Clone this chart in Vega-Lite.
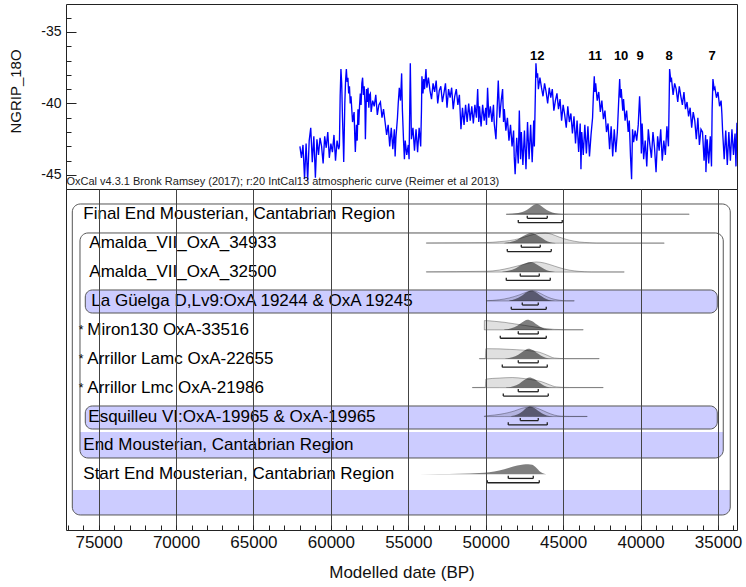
{
"$schema": "https://vega.github.io/schema/vega-lite/v6.json",
"padding": {"left": 8, "top": 3, "right": 6, "bottom": 2},
"background": "white",
"spacing": 0,
"bounds": "flush",
"config": {"view": {"stroke": "#222", "strokeWidth": 1}, "font": "Liberation Sans",
  "axis": {"labelFont": "Liberation Sans", "titleFont": "Liberation Sans", "labelColor": "#111", "titleColor": "#111", "titleFontWeight": "normal", "tickColor": "#222"}},
"datasets": {
 "ngrip": [
  {"t":62000,"v":-43.0},{"t":61900,"v":-43.8},{"t":61800,"v":-42.9},{"t":61700,"v":-45.3},{"t":61600,"v":-42.8},{"t":61500,"v":-45.4},{"t":61400,"v":-42.6},{"t":61300,"v":-41.7},{"t":61200,"v":-44.1},{"t":61100,"v":-42.3},{"t":61000,"v":-45.2},{"t":60900,"v":-42.5},{"t":60800,"v":-43.6},{"t":60700,"v":-42.4},{"t":60600,"v":-43.0},{"t":60500,"v":-44.2},{"t":60400,"v":-42.3},{"t":60300,"v":-43.1},{"t":60200,"v":-42.0},{"t":60100,"v":-43.8},{"t":60000,"v":-42.8},{"t":59900,"v":-43.4},{"t":59800,"v":-42.2},{"t":59700,"v":-44.0},{"t":59600,"v":-42.6},{"t":59500,"v":-43.2},{"t":59450,"v":-43.0},{"t":59400,"v":-39.5},{"t":59350,"v":-37.6},{"t":59300,"v":-38.6},{"t":59250,"v":-41.0},{"t":59200,"v":-42.8},{"t":59170,"v":-44.1},{"t":59100,"v":-40.0},{"t":59050,"v":-38.4},{"t":59000,"v":-37.6},{"t":58950,"v":-38.5},{"t":58900,"v":-38.2},{"t":58850,"v":-39.3},{"t":58800,"v":-38.8},{"t":58750,"v":-40.0},{"t":58700,"v":-39.5},{"t":58600,"v":-41.3},{"t":58500,"v":-40.6},{"t":58450,"v":-42.5},{"t":58420,"v":-43.4},{"t":58350,"v":-41.5},{"t":58300,"v":-42.6},{"t":58250,"v":-40.4},{"t":58200,"v":-41.5},{"t":58150,"v":-40.2},{"t":58100,"v":-39.3},{"t":58050,"v":-40.1},{"t":58000,"v":-38.6},{"t":57950,"v":-38.2},{"t":57900,"v":-39.4},{"t":57850,"v":-38.8},{"t":57800,"v":-40.0},{"t":57770,"v":-42.5},{"t":57700,"v":-39.0},{"t":57650,"v":-39.9},{"t":57600,"v":-38.9},{"t":57550,"v":-40.3},{"t":57500,"v":-39.4},{"t":57450,"v":-39.3},{"t":57400,"v":-40.6},{"t":57300,"v":-39.8},{"t":57200,"v":-40.2},{"t":57100,"v":-39.4},{"t":57000,"v":-40.8},{"t":56900,"v":-40.1},{"t":56800,"v":-39.9},{"t":56700,"v":-41.0},{"t":56600,"v":-40.4},{"t":56500,"v":-41.3},{"t":56400,"v":-42.2},{"t":56300,"v":-41.5},{"t":56200,"v":-43.0},{"t":56100,"v":-41.7},{"t":56000,"v":-43.2},{"t":55900,"v":-41.8},{"t":55850,"v":-43.7},{"t":55800,"v":-42.4},{"t":55700,"v":-41.0},{"t":55650,"v":-40.0},{"t":55580,"v":-38.9},{"t":55500,"v":-39.8},{"t":55430,"v":-37.9},{"t":55380,"v":-40.5},{"t":55300,"v":-42.8},{"t":55250,"v":-43.9},{"t":55200,"v":-42.6},{"t":55100,"v":-43.6},{"t":55000,"v":-42.9},{"t":54950,"v":-43.9},{"t":54870,"v":-37.2},{"t":54800,"v":-42.5},{"t":54700,"v":-41.7},{"t":54600,"v":-43.3},{"t":54500,"v":-41.8},{"t":54400,"v":-43.4},{"t":54300,"v":-41.7},{"t":54200,"v":-43.0},{"t":54150,"v":-40.5},{"t":54120,"v":-38.1},{"t":54050,"v":-39.3},{"t":54000,"v":-38.3},{"t":53950,"v":-39.0},{"t":53860,"v":-37.6},{"t":53800,"v":-38.9},{"t":53700,"v":-38.2},{"t":53600,"v":-39.1},{"t":53500,"v":-39.7},{"t":53400,"v":-38.6},{"t":53300,"v":-39.2},{"t":53200,"v":-38.4},{"t":53100,"v":-40.0},{"t":53000,"v":-39.1},{"t":52900,"v":-38.8},{"t":52800,"v":-39.9},{"t":52700,"v":-39.3},{"t":52600,"v":-38.6},{"t":52500,"v":-40.3},{"t":52400,"v":-39.0},{"t":52300,"v":-39.6},{"t":52200,"v":-38.9},{"t":52100,"v":-40.4},{"t":52000,"v":-39.5},{"t":51900,"v":-39.0},{"t":51800,"v":-40.1},{"t":51700,"v":-39.4},{"t":51600,"v":-41.8},{"t":51500,"v":-40.3},{"t":51400,"v":-41.5},{"t":51300,"v":-40.1},{"t":51200,"v":-41.3},{"t":51100,"v":-40.0},{"t":51000,"v":-41.2},{"t":50900,"v":-40.2},{"t":50800,"v":-41.4},{"t":50700,"v":-40.1},{"t":50600,"v":-41.0},{"t":50520,"v":-39.0},{"t":50450,"v":-41.3},{"t":50400,"v":-40.2},{"t":50300,"v":-41.6},{"t":50200,"v":-40.1},{"t":50100,"v":-41.2},{"t":50000,"v":-40.3},{"t":49950,"v":-41.5},{"t":49880,"v":-38.9},{"t":49800,"v":-41.0},{"t":49700,"v":-40.2},{"t":49600,"v":-41.3},{"t":49500,"v":-40.1},{"t":49450,"v":-41.4},{"t":49340,"v":-42.5},{"t":49250,"v":-40.0},{"t":49190,"v":-38.4},{"t":49100,"v":-41.0},{"t":49000,"v":-39.8},{"t":48910,"v":-39.0},{"t":48850,"v":-41.3},{"t":48800,"v":-40.4},{"t":48700,"v":-41.9},{"t":48600,"v":-41.0},{"t":48500,"v":-42.6},{"t":48400,"v":-41.5},{"t":48300,"v":-43.0},{"t":48200,"v":-41.9},{"t":48160,"v":-43.7},{"t":48100,"v":-44.95},{"t":48000,"v":-42.4},{"t":47900,"v":-44.2},{"t":47830,"v":-40.5},{"t":47750,"v":-43.9},{"t":47700,"v":-42.0},{"t":47600,"v":-44.3},{"t":47500,"v":-41.9},{"t":47400,"v":-44.6},{"t":47300,"v":-41.3},{"t":47200,"v":-43.9},{"t":47100,"v":-41.5},{"t":47000,"v":-44.1},{"t":46900,"v":-41.2},{"t":46860,"v":-43.0},{"t":46757,"v":-37.2},{"t":46700,"v":-38.2},{"t":46650,"v":-37.9},{"t":46600,"v":-39.0},{"t":46500,"v":-38.2},{"t":46400,"v":-38.9},{"t":46300,"v":-39.5},{"t":46200,"v":-38.6},{"t":46100,"v":-39.2},{"t":46000,"v":-40.0},{"t":45900,"v":-38.9},{"t":45800,"v":-39.6},{"t":45700,"v":-39.0},{"t":45600,"v":-40.5},{"t":45500,"v":-39.8},{"t":45400,"v":-39.3},{"t":45300,"v":-40.4},{"t":45200,"v":-39.7},{"t":45100,"v":-41.2},{"t":45000,"v":-40.1},{"t":44900,"v":-40.8},{"t":44800,"v":-41.7},{"t":44700,"v":-40.2},{"t":44600,"v":-41.3},{"t":44500,"v":-40.7},{"t":44400,"v":-42.1},{"t":44300,"v":-40.9},{"t":44200,"v":-42.8},{"t":44100,"v":-41.2},{"t":44000,"v":-43.4},{"t":43900,"v":-41.4},{"t":43850,"v":-44.6},{"t":43800,"v":-42.0},{"t":43700,"v":-43.6},{"t":43600,"v":-41.5},{"t":43500,"v":-43.5},{"t":43400,"v":-41.6},{"t":43300,"v":-43.7},{"t":43200,"v":-42.2},{"t":43100,"v":-41.0},{"t":43050,"v":-39.5},{"t":42990,"v":-38.1},{"t":42950,"v":-39.2},{"t":42900,"v":-38.6},{"t":42800,"v":-39.8},{"t":42700,"v":-39.2},{"t":42600,"v":-40.6},{"t":42500,"v":-39.8},{"t":42400,"v":-41.1},{"t":42300,"v":-40.5},{"t":42200,"v":-42.0},{"t":42100,"v":-41.4},{"t":42000,"v":-43.2},{"t":41900,"v":-41.6},{"t":41800,"v":-43.7},{"t":41700,"v":-41.8},{"t":41600,"v":-43.4},{"t":41500,"v":-42.0},{"t":41420,"v":-40.0},{"t":41350,"v":-38.3},{"t":41300,"v":-39.6},{"t":41250,"v":-39.0},{"t":41150,"v":-40.5},{"t":41100,"v":-39.7},{"t":41000,"v":-41.2},{"t":40900,"v":-40.5},{"t":40800,"v":-42.0},{"t":40730,"v":-41.2},{"t":40650,"v":-43.7},{"t":40580,"v":-45.3},{"t":40520,"v":-41.8},{"t":40450,"v":-42.7},{"t":40350,"v":-41.9},{"t":40250,"v":-42.6},{"t":40150,"v":-41.5},{"t":40063,"v":-39.5},{"t":40000,"v":-41.0},{"t":39950,"v":-43.5},{"t":39900,"v":-41.4},{"t":39800,"v":-43.9},{"t":39700,"v":-42.6},{"t":39600,"v":-44.4},{"t":39500,"v":-41.8},{"t":39400,"v":-42.9},{"t":39300,"v":-43.8},{"t":39200,"v":-42.0},{"t":39100,"v":-43.1},{"t":39000,"v":-44.8},{"t":38900,"v":-42.3},{"t":38800,"v":-43.3},{"t":38700,"v":-41.8},{"t":38600,"v":-44.0},{"t":38500,"v":-42.6},{"t":38400,"v":-43.6},{"t":38300,"v":-41.6},{"t":38200,"v":-43.0},{"t":38150,"v":-39.5},{"t":38125,"v":-37.6},{"t":38050,"v":-38.4},{"t":38000,"v":-38.3},{"t":37900,"v":-39.4},{"t":37800,"v":-38.6},{"t":37700,"v":-39.0},{"t":37600,"v":-39.9},{"t":37500,"v":-38.8},{"t":37400,"v":-39.5},{"t":37300,"v":-40.1},{"t":37200,"v":-39.2},{"t":37100,"v":-40.4},{"t":37000,"v":-39.9},{"t":36900,"v":-40.9},{"t":36800,"v":-40.3},{"t":36700,"v":-41.7},{"t":36600,"v":-40.6},{"t":36500,"v":-41.2},{"t":36400,"v":-42.5},{"t":36300,"v":-41.0},{"t":36200,"v":-42.9},{"t":36100,"v":-41.8},{"t":36000,"v":-42.0},{"t":35900,"v":-44.0},{"t":35800,"v":-42.2},{"t":35780,"v":-44.8},{"t":35700,"v":-42.5},{"t":35600,"v":-44.2},{"t":35500,"v":-42.3},{"t":35420,"v":-44.4},{"t":35380,"v":-40.5},{"t":35327,"v":-38.3},{"t":35250,"v":-39.0},{"t":35200,"v":-38.9},{"t":35100,"v":-39.6},{"t":35000,"v":-39.2},{"t":34900,"v":-40.2},{"t":34800,"v":-39.8},{"t":34750,"v":-40.7},{"t":34700,"v":-42.0},{"t":34600,"v":-43.9},{"t":34500,"v":-41.9},{"t":34400,"v":-44.3},{"t":34300,"v":-42.0},{"t":34200,"v":-44.0},{"t":34100,"v":-41.8},{"t":34000,"v":-43.6},{"t":33900,"v":-42.1},{"t":33840,"v":-44.4},{"t":33777,"v":-41.35},{"t":33700,"v":-42.5}
 ],
 "events": [
  {"t":46680,"v":-36.7,"n":"12"},{"t":42935,"v":-36.7,"n":"11"},{"t":41256,"v":-36.7,"n":"10"},{"t":40029,"v":-36.7,"n":"9"},{"t":38156,"v":-36.7,"n":"8"},{"t":35379,"v":-36.7,"n":"7"}
 ],
 "prior": [
  {"r":1,"t":48673,"p":0.02},{"r":1,"t":36858,"p":0.02},
  {"r":2,"t":53839,"p":0.03},{"r":2,"t":49964,"p":0.06},{"r":2,"t":49125,"p":0.15},{"r":2,"t":48479,"p":0.25},{"r":2,"t":47834,"p":0.45},{"r":2,"t":47188,"p":0.75},{"r":2,"t":46542,"p":0.97},{"r":2,"t":46155,"p":1.0},{"r":2,"t":45768,"p":0.9},{"r":2,"t":45252,"p":0.6},{"r":2,"t":44606,"p":0.3},{"r":2,"t":43960,"p":0.12},{"r":2,"t":43315,"p":0.05},{"r":2,"t":42863,"p":0.02},{"r":2,"t":38472,"p":0.02},
  {"r":3,"t":53839,"p":0.03},{"r":3,"t":49964,"p":0.08},{"r":3,"t":49125,"p":0.2},{"r":3,"t":48479,"p":0.4},{"r":3,"t":47834,"p":0.65},{"r":3,"t":47188,"p":0.9},{"r":3,"t":46736,"p":1.0},{"r":3,"t":46220,"p":0.9},{"r":3,"t":45575,"p":0.6},{"r":3,"t":44929,"p":0.3},{"r":3,"t":44283,"p":0.12},{"r":3,"t":43637,"p":0.04},{"r":3,"t":43186,"p":0.02},{"r":3,"t":41055,"p":0.02},
  {"r":4,"t":49964,"p":0.03},{"r":4,"t":49125,"p":0.12},{"r":4,"t":48479,"p":0.3},{"r":4,"t":47834,"p":0.6},{"r":4,"t":47317,"p":0.9},{"r":4,"t":46994,"p":1.0},{"r":4,"t":46672,"p":0.9},{"r":4,"t":46220,"p":0.55},{"r":4,"t":45768,"p":0.25},{"r":4,"t":45252,"p":0.08},{"r":4,"t":44800,"p":0.02},{"r":4,"t":44283,"p":0.02},
  {"r":5,"t":50093,"p":0.0},{"r":5,"t":50085,"p":0.92},{"r":5,"t":49448,"p":0.85},{"r":5,"t":48802,"p":0.75},{"r":5,"t":48156,"p":0.6},{"r":5,"t":47511,"p":0.45},{"r":5,"t":46865,"p":0.3},{"r":5,"t":46220,"p":0.15},{"r":5,"t":45575,"p":0.05},{"r":5,"t":44929,"p":0.02},{"r":5,"t":43702,"p":0.02},
  {"r":6,"t":50416,"p":0.02},{"r":6,"t":50029,"p":0.02},{"r":6,"t":49990,"p":1.0},{"r":6,"t":49125,"p":0.98},{"r":6,"t":48027,"p":0.9},{"r":6,"t":47188,"p":0.8},{"r":6,"t":46542,"p":0.65},{"r":6,"t":46026,"p":0.35},{"r":6,"t":45575,"p":0.08},{"r":6,"t":44929,"p":0.02},{"r":6,"t":42669,"p":0.02},
  {"r":7,"t":50868,"p":0.02},{"r":7,"t":50029,"p":0.03},{"r":7,"t":49990,"p":0.85},{"r":7,"t":49125,"p":0.95},{"r":7,"t":48285,"p":1.0},{"r":7,"t":47511,"p":0.9},{"r":7,"t":46865,"p":0.75},{"r":7,"t":46414,"p":0.6},{"r":7,"t":45897,"p":0.3},{"r":7,"t":45446,"p":0.08},{"r":7,"t":44606,"p":0.02},{"r":7,"t":42411,"p":0.02},
  {"r":8,"t":50093,"p":0.05},{"r":8,"t":49448,"p":0.15},{"r":8,"t":48802,"p":0.3},{"r":8,"t":48156,"p":0.55},{"r":8,"t":47704,"p":0.8},{"r":8,"t":47317,"p":0.92},{"r":8,"t":46994,"p":0.95},{"r":8,"t":46542,"p":0.75},{"r":8,"t":46026,"p":0.4},{"r":8,"t":45575,"p":0.15},{"r":8,"t":45123,"p":0.04},{"r":8,"t":44606,"p":0.02},{"r":8,"t":43444,"p":0.02}
 ],
 "post": [
  {"r":1,"t":48673,"p":0.02},{"r":1,"t":48027,"p":0.1},{"r":1,"t":47511,"p":0.3},{"r":1,"t":47188,"p":0.6},{"r":1,"t":46930,"p":0.9},{"r":1,"t":46691,"p":1.0},{"r":1,"t":46478,"p":0.9},{"r":1,"t":46220,"p":0.6},{"r":1,"t":45897,"p":0.3},{"r":1,"t":45510,"p":0.1},{"r":1,"t":45058,"p":0.03},{"r":1,"t":44283,"p":0.0},
  {"r":2,"t":48802,"p":0.03},{"r":2,"t":48350,"p":0.15},{"r":2,"t":47963,"p":0.35},{"r":2,"t":47575,"p":0.7},{"r":2,"t":47317,"p":0.9},{"r":2,"t":47059,"p":1.0},{"r":2,"t":46801,"p":0.9},{"r":2,"t":46478,"p":0.6},{"r":2,"t":46155,"p":0.3},{"r":2,"t":45833,"p":0.1},{"r":2,"t":45510,"p":0.02},
  {"r":3,"t":48931,"p":0.03},{"r":3,"t":48479,"p":0.15},{"r":3,"t":48092,"p":0.35},{"r":3,"t":47704,"p":0.7},{"r":3,"t":47381,"p":0.9},{"r":3,"t":47123,"p":1.0},{"r":3,"t":46865,"p":0.9},{"r":3,"t":46542,"p":0.6},{"r":3,"t":46220,"p":0.3},{"r":3,"t":45897,"p":0.1},{"r":3,"t":45510,"p":0.02},
  {"r":4,"t":48479,"p":0.05},{"r":4,"t":48092,"p":0.2},{"r":4,"t":47704,"p":0.5},{"r":4,"t":47381,"p":0.85},{"r":4,"t":47059,"p":1.0},{"r":4,"t":46736,"p":0.85},{"r":4,"t":46414,"p":0.5},{"r":4,"t":46091,"p":0.2},{"r":4,"t":45768,"p":0.05},{"r":4,"t":45510,"p":0.01},
  {"r":5,"t":48802,"p":0.03},{"r":5,"t":48350,"p":0.15},{"r":5,"t":47963,"p":0.4},{"r":5,"t":47640,"p":0.75},{"r":5,"t":47317,"p":1.0},{"r":5,"t":46994,"p":0.85},{"r":5,"t":46672,"p":0.5},{"r":5,"t":46349,"p":0.2},{"r":5,"t":46026,"p":0.05},{"r":5,"t":45704,"p":0.01},
  {"r":6,"t":48737,"p":0.03},{"r":6,"t":48285,"p":0.15},{"r":6,"t":47898,"p":0.4},{"r":6,"t":47575,"p":0.75},{"r":6,"t":47252,"p":1.0},{"r":6,"t":46930,"p":0.85},{"r":6,"t":46607,"p":0.5},{"r":6,"t":46285,"p":0.2},{"r":6,"t":45962,"p":0.05},{"r":6,"t":45575,"p":0.01},
  {"r":7,"t":48673,"p":0.03},{"r":7,"t":48221,"p":0.15},{"r":7,"t":47834,"p":0.4},{"r":7,"t":47511,"p":0.75},{"r":7,"t":47188,"p":1.0},{"r":7,"t":46865,"p":0.85},{"r":7,"t":46542,"p":0.5},{"r":7,"t":46220,"p":0.2},{"r":7,"t":45897,"p":0.05},{"r":7,"t":45510,"p":0.01},
  {"r":8,"t":48350,"p":0.05},{"r":8,"t":47963,"p":0.2},{"r":8,"t":47640,"p":0.5},{"r":8,"t":47381,"p":0.85},{"r":8,"t":47123,"p":1.0},{"r":8,"t":46865,"p":0.85},{"r":8,"t":46542,"p":0.5},{"r":8,"t":46220,"p":0.2},{"r":8,"t":45897,"p":0.05},{"r":8,"t":45639,"p":0.01},
  {"r":10,"t":55582,"p":0.02},{"r":10,"t":52999,"p":0.04},{"r":10,"t":51708,"p":0.07},{"r":10,"t":50416,"p":0.13},{"r":10,"t":49771,"p":0.2},{"r":10,"t":49125,"p":0.38},{"r":10,"t":48479,"p":0.65},{"r":10,"t":47963,"p":0.88},{"r":10,"t":47575,"p":0.98},{"r":10,"t":47252,"p":1.0},{"r":10,"t":46994,"p":0.95},{"r":10,"t":46736,"p":0.65},{"r":10,"t":46478,"p":0.25},{"r":10,"t":46220,"p":0.06},{"r":10,"t":46091,"p":0.02}
 ],
 "brk": [
  {"r":1,"l":1,"lo":47317,"hi":46026},{"r":1,"l":2,"lo":47898,"hi":45058},
  {"r":2,"l":1,"lo":47704,"hi":46478},{"r":2,"l":2,"lo":48608,"hi":45768},
  {"r":3,"l":1,"lo":47769,"hi":46542},{"r":3,"l":2,"lo":48673,"hi":45833},
  {"r":4,"l":1,"lo":47640,"hi":46607},{"r":4,"l":2,"lo":48350,"hi":46091},
  {"r":5,"l":1,"lo":47898,"hi":46607},{"r":5,"l":2,"lo":49060,"hi":46091},
  {"r":6,"l":1,"lo":47898,"hi":46607},{"r":6,"l":2,"lo":48931,"hi":46026},
  {"r":7,"l":1,"lo":47898,"hi":46607},{"r":7,"l":2,"lo":48866,"hi":45962},
  {"r":8,"l":1,"lo":47769,"hi":46607},{"r":8,"l":2,"lo":48544,"hi":46026},
  {"r":10,"l":1,"lo":48544,"hi":46930},{"r":10,"l":2,"lo":49899,"hi":46542}
 ],
 "labels": [
  {"r":1,"t":75988,"s":"Final End Mousterian, Cantabrian Region"},
  {"r":2,"t":75600,"s":"Amalda_VII_OxA_34933"},
  {"r":3,"t":75600,"s":"Amalda_VII_OxA_32500"},
  {"r":4,"t":75471,"s":"La Güelga D,Lv9:OxA 19244 & OxA 19245"},
  {"r":5,"t":75730,"s":"Miron130 OxA-33516"},
  {"r":6,"t":75730,"s":"Arrillor Lamc  OxA-22655"},
  {"r":7,"t":75730,"s":"Arrillor Lmc  OxA-21986"},
  {"r":8,"t":75665,"s":"Esquilleu VI:OxA-19965 & OxA-19965"},
  {"r":9,"t":75988,"s":"End Mousterian, Cantabrian Region"},
  {"r":10,"t":75988,"s":"Start End Mousterian, Cantabrian Region"}
 ],
 "stars": [{"r":5,"t":76137},{"r":6,"t":76137},{"r":7,"t":76137}],
 "frames": [{"x1":76698,"x2":34208,"y1":0.644,"y2":11.405},{"x1":76201,"x2":34660,"y1":1.647,"y2":9.433}],
 "boxes": [{"x1":75859,"x2":35047,"y1":3.62,"y2":4.416},{"x1":75859,"x2":35047,"y1":7.634,"y2":8.43}],
 "bands": [{"x1":76201,"x2":34660,"y1":8.533,"y2":9.433},{"x1":76698,"x2":34208,"y1":10.54,"y2":11.405}]
},
"vconcat": [
 {
  "width": 671, "height": 185,
  "layer": [
   {"data": {"name": "ngrip"},
    "mark": {"type": "line", "color": "#0000ff", "strokeWidth": 1.35, "clip": true},
    "encoding": {
     "x": {"field": "t", "type": "quantitative", "scale": {"domain": [33773, 77105], "reverse": true, "nice": false, "zero": false}, "axis": null},
     "y": {"field": "v", "type": "quantitative", "scale": {"domain": [-45.98, -33.05], "nice": false, "zero": false},
      "axis": {"title": "NGRIP_18O", "titleY": 87, "values": [-45,-44,-43,-42,-41,-40,-39,-38,-37,-36,-35,-34], "tickCount": 100, "labelExpr": "datum.value % 5 === 0 ? '' + datum.value : ''",
       "tickSize": {"condition": {"test": "datum.value % 5 === 0", "value": -10}, "value": -5}, "labelPadding": 15,
       "domain": false, "grid": false, "labelFontSize": 14, "titleFontSize": 15, "titlePadding": 17, "labelOverlap": false, "labelFlush": false}}
    }},
   {"data": {"values": [{"t": 77080, "v": -45.72, "s": "OxCal v4.3.1 Bronk Ramsey (2017); r:20 IntCal13 atmospheric curve (Reimer et al 2013)"}]},
    "mark": {"type": "text", "align": "left", "baseline": "alphabetic", "fontSize": 11, "color": "#222"},
    "encoding": {"x": {"field": "t", "type": "quantitative"}, "y": {"field": "v", "type": "quantitative"}, "text": {"field": "s"}}},
   {"data": {"name": "events"},
    "mark": {"type": "text", "fontWeight": "bold", "fontSize": 13, "color": "#000"},
    "encoding": {"x": {"field": "t", "type": "quantitative"}, "y": {"field": "v", "type": "quantitative"}, "text": {"field": "n"}}}
  ]
 },
 {
  "width": 671, "height": 341,
  "encoding": {
   "x": {"type": "quantitative", "scale": {"domain": [33773, 77105], "reverse": true, "nice": false, "zero": false}},
   "y": {"type": "quantitative", "scale": {"domain": [0.125, 11.925], "reverse": true, "nice": false, "zero": false}}
  },
  "layer": [
   {"data": {"name": "bands"},
    "mark": {"type": "rect", "fill": "#ccccff", "cornerRadiusBottomLeft": 8, "cornerRadiusBottomRight": 8},
    "encoding": {
     "x": {"field": "x1", "type": "quantitative", "title": "Modelled date (BP)",
      "axis": {"values": [34000,35000,36000,37000,38000,39000,40000,41000,42000,43000,44000,45000,46000,47000,48000,49000,50000,51000,52000,53000,54000,55000,56000,57000,58000,59000,60000,61000,62000,63000,64000,65000,66000,67000,68000,69000,70000,71000,72000,73000,74000,75000,76000,77000],
       "tickCount": 200, "format": "d", "labelExpr": "datum.value % 5000 === 0 ? datum.label : ''", "tickSize": -5, "labelPadding": 9,
       "grid": true, "gridColor": "#444", "gridWidth": 1, "gridOpacity": {"condition": {"test": "datum.value % 5000 === 0", "value": 1}, "value": 0},
       "domain": false, "zindex": 1, "labelFontSize": 17, "titleFontSize": 17, "titlePadding": 14, "labelOverlap": false, "labelFlush": false}},
     "x2": {"field": "x2"},
     "y": {"field": "y1", "type": "quantitative", "axis": null},
     "y2": {"field": "y2"}
    }},
   {"data": {"name": "frames"},
    "mark": {"type": "rect", "fillOpacity": 0, "stroke": "#555", "strokeWidth": 1, "cornerRadius": 8},
    "encoding": {"x": {"field": "x1", "type": "quantitative"}, "x2": {"field": "x2"}, "y": {"field": "y1", "type": "quantitative"}, "y2": {"field": "y2"}}},
   {"data": {"name": "boxes"},
    "mark": {"type": "rect", "fill": "#ccccff", "stroke": "#555", "strokeWidth": 1, "cornerRadius": 7},
    "encoding": {"x": {"field": "x1", "type": "quantitative"}, "x2": {"field": "x2"}, "y": {"field": "y1", "type": "quantitative"}, "y2": {"field": "y2"}}},
   {"data": {"name": "prior"},
    "transform": [{"calculate": "datum.r - 0.35 * datum.p", "as": "top"}],
    "mark": {"type": "area", "fill": "#000", "fillOpacity": 0.12, "stroke": "#000", "strokeOpacity": 0.3, "strokeWidth": 1, "interpolate": "monotone"},
    "encoding": {"x": {"field": "t", "type": "quantitative"}, "y": {"field": "top", "type": "quantitative"}, "y2": {"field": "r"}, "detail": {"field": "r"}}},
   {"data": {"name": "post"},
    "transform": [{"calculate": "datum.r - 0.35 * datum.p", "as": "top"}],
    "mark": {"type": "area", "fill": "#000", "fillOpacity": 0.5, "interpolate": "monotone"},
    "encoding": {"x": {"field": "t", "type": "quantitative"}, "y": {"field": "top", "type": "quantitative"}, "y2": {"field": "r"}, "detail": {"field": "r"}}},
   {"data": {"name": "brk"},
    "transform": [{"calculate": "datum.r + (datum.l === 1 ? 0.14 : 0.29)", "as": "yb"}],
    "mark": {"type": "rule", "color": "#222", "strokeWidth": 1.3},
    "encoding": {"x": {"field": "lo", "type": "quantitative"}, "x2": {"field": "hi"}, "y": {"field": "yb", "type": "quantitative"}}},
   {"data": {"name": "brk"},
    "transform": [{"calculate": "datum.r + (datum.l === 1 ? 0.14 : 0.29)", "as": "yb"}, {"calculate": "datum.yb - 0.09", "as": "yt"}, {"fold": ["lo", "hi"]}],
    "mark": {"type": "rule", "color": "#222", "strokeWidth": 1.3},
    "encoding": {"x": {"field": "value", "type": "quantitative"}, "y": {"field": "yb", "type": "quantitative"}, "y2": {"field": "yt"}}},
   {"data": {"name": "labels"},
    "mark": {"type": "text", "align": "left", "baseline": "middle", "fontSize": 17, "color": "#000"},
    "encoding": {"x": {"field": "t", "type": "quantitative"}, "y": {"field": "r", "type": "quantitative"}, "text": {"field": "s"}}},
   {"data": {"name": "stars"},
    "mark": {"type": "text", "align": "center", "baseline": "middle", "fontSize": 12, "color": "#000", "text": "*"},
    "encoding": {"x": {"field": "t", "type": "quantitative"}, "y": {"field": "r", "type": "quantitative"}}}
  ]
 }
]
}
